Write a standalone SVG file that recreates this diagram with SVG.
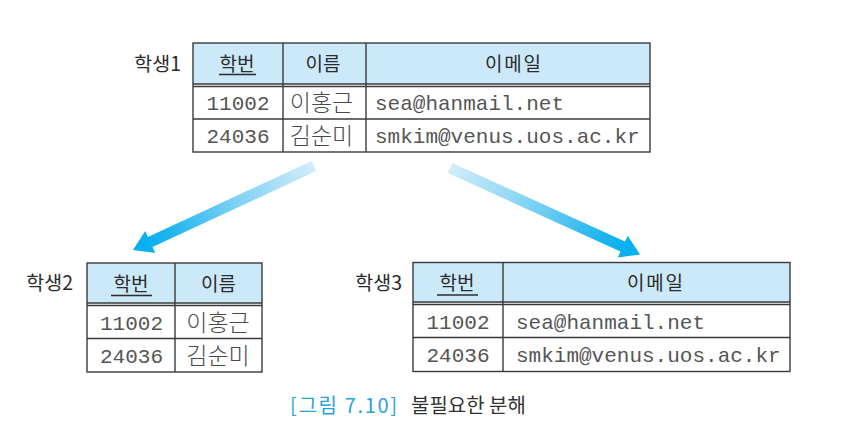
<svg xmlns="http://www.w3.org/2000/svg" width="841" height="447" viewBox="0 0 841 447">
<defs>
<style>
.bg{fill:#ffffff}
.hdr{fill:#cbe9f9}
.ln{stroke:#3a3a3a;stroke-width:1.4;fill:none}
.kr{font-family:"Noto Sans CJK KR","Noto Sans",sans-serif;fill:#2b2b2b}
.lbl{font-size:19.5px;text-anchor:end}
.h{font-size:19px;text-anchor:middle}
.nm{font-size:23px;text-anchor:middle;fill:#4a4a4a;font-weight:300}
.mono{font-family:"Liberation Mono","DejaVu Sans Mono",monospace;font-size:21px;fill:#555555}
.num{text-anchor:middle}
.ul{stroke:#2b2b2b;stroke-width:1.5}
.cap{font-family:"Noto Sans CJK KR","Noto Sans",sans-serif;font-size:20px}
</style>
<linearGradient id="gL" gradientUnits="userSpaceOnUse" x1="314" y1="166" x2="133" y2="250">
<stop offset="0" stop-color="#d3edfa"/>
<stop offset="0.45" stop-color="#7ad0f3"/>
<stop offset="0.8" stop-color="#1db4ee"/>
<stop offset="1" stop-color="#00aeef"/>
</linearGradient>
<linearGradient id="gR" gradientUnits="userSpaceOnUse" x1="450" y1="168" x2="640" y2="254.5">
<stop offset="0" stop-color="#d3edfa"/>
<stop offset="0.45" stop-color="#7ad0f3"/>
<stop offset="0.8" stop-color="#1db4ee"/>
<stop offset="1" stop-color="#00aeef"/>
</linearGradient>
</defs>
<rect class="bg" x="0" y="0" width="841" height="447"/>

<g id="student1">
<text class="kr lbl" x="181" y="71">학생1</text>
<rect class="hdr" x="193" y="43" width="457" height="41"/>
<rect class="ln" x="193" y="43" width="457" height="109"/>
<line class="ln" x1="193" y1="84" x2="650" y2="84"/>
<line class="ln" x1="193" y1="86.5" x2="650" y2="86.5"/>
<line class="ln" x1="193" y1="119" x2="650" y2="119"/>
<line class="ln" x1="283" y1="43" x2="283" y2="152"/>
<line class="ln" x1="366" y1="43" x2="366" y2="152"/>
<text class="kr h" x="237" y="70.5">학번</text>
<line class="ul" x1="219" y1="74.5" x2="256" y2="74.5"/>
<text class="kr h" x="323" y="70.5">이름</text>
<text class="kr h" x="513" y="70.5" textLength="56" lengthAdjust="spacing">이메일</text>
<text class="mono num" x="238" y="110">11002</text>
<text class="kr nm" x="321.5" y="111">이홍근</text>
<text class="mono" x="375" y="110">sea@hanmail.net</text>
<text class="mono num" x="238" y="143">24036</text>
<text class="kr nm" x="321.5" y="144">김순미</text>
<text class="mono" x="375" y="143">smkim@venus.uos.ac.kr</text>
</g>

<g id="student2">
<text class="kr lbl" x="73" y="290">학생2</text>
<rect class="hdr" x="87" y="263" width="175" height="40"/>
<rect class="ln" x="87" y="263" width="175" height="109"/>
<line class="ln" x1="87" y1="303" x2="262" y2="303"/>
<line class="ln" x1="87" y1="305.5" x2="262" y2="305.5"/>
<line class="ln" x1="87" y1="338.5" x2="262" y2="338.5"/>
<line class="ln" x1="175" y1="263" x2="175" y2="372"/>
<text class="kr h" x="131" y="290.5">학번</text>
<line class="ul" x1="111" y1="295.5" x2="152" y2="295.5"/>
<text class="kr h" x="218.5" y="290.5">이름</text>
<text class="mono num" x="131.5" y="330">11002</text>
<text class="kr nm" x="218" y="331">이홍근</text>
<text class="mono num" x="131.5" y="363">24036</text>
<text class="kr nm" x="218" y="364">김순미</text>
</g>

<g id="student3">
<text class="kr lbl" x="402" y="290">학생3</text>
<rect class="hdr" x="413" y="262.5" width="377" height="40"/>
<rect class="ln" x="413" y="262.5" width="377" height="109"/>
<line class="ln" x1="413" y1="302" x2="790" y2="302"/>
<line class="ln" x1="413" y1="304.5" x2="790" y2="304.5"/>
<line class="ln" x1="413" y1="337.5" x2="790" y2="337.5"/>
<line class="ln" x1="503" y1="262.5" x2="503" y2="371.5"/>
<text class="kr h" x="457" y="290">학번</text>
<line class="ul" x1="437" y1="295" x2="478" y2="295"/>
<text class="kr h" x="655" y="290" textLength="56" lengthAdjust="spacing">이메일</text>
<text class="mono num" x="458" y="329">11002</text>
<text class="mono" x="516" y="329">sea@hanmail.net</text>
<text class="mono num" x="458" y="362">24036</text>
<text class="mono" x="516" y="362">smkim@venus.uos.ac.kr</text>
</g>

<g id="connectors">
<polygon fill="url(#gL)" points="311.7,161 316.3,171 152.5,247 155.3,252.9 133,250 145.2,231.1 147.9,237"/>
<polygon fill="url(#gR)" points="452.3,163 447.7,173 620.4,251.6 617.7,257.5 640,254.5 627.7,235.7 625,241.6"/>
</g>

<g id="caption">
<text class="cap" x="290" y="413" fill="#2aa2dc" textLength="107" lengthAdjust="spacing">[그림 7.10]</text>
<text class="cap" x="411" y="413" fill="#333333">불필요한 분해</text>
</g>
</svg>
